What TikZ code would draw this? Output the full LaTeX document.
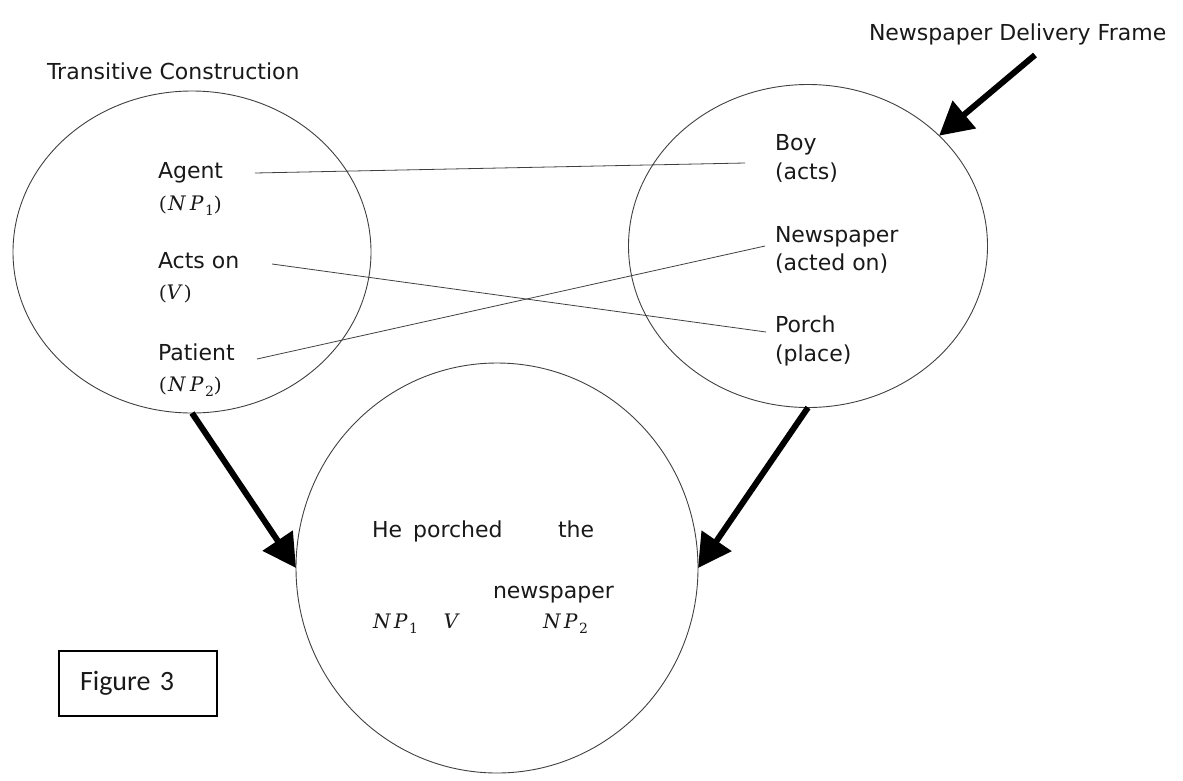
\documentclass[tikz,border=0pt]{standalone}
\usepackage{fontspec}
\usepackage{unicode-math}
\setmainfont{DejaVu Sans}
\setmathfont{DejaVu Math TeX Gyre}
\newfontfamily\figfont{Carlito}
\usetikzlibrary{shapes.geometric,arrows.meta}
\begin{document}
\begin{tikzpicture}[x=1pt,y=-1pt,
  every node/.style={font=\fontsize{22}{26}\selectfont, text=black!90, inner sep=0pt, outer sep=0pt},
  lbl/.style={anchor=base west},
  mlbl/.style={anchor=base west, font=\fontsize{20}{24}\selectfont},
  oval/.style={draw=black!75, line width=0.9pt, ellipse, inner sep=0pt, outer sep=0pt},
  link/.style={draw=black!75, line width=0.8pt},
  bigarrow/.style={line width=6pt, -{Triangle[length=33pt,width=35pt]}},
  figbox/.style={draw=black, line width=1.3pt, text width=116pt, align=left, inner xsep=21pt, inner ysep=0pt, minimum height=65pt, font=\figfont\fontsize{28}{34}\selectfont}
]
\useasboundingbox (0,0) rectangle (1183,780);
% ellipses
\node[oval, minimum width=358pt, minimum height=322pt] (tc) at (192,252) {};
\node[oval, minimum width=359pt, minimum height=323pt] (nd) at (808,246) {};
\node[oval, minimum width=402pt, minimum height=410pt] (res) at (497,568) {};
% titles
\node[lbl] (tctitle) at (47,79) {Transitive Construction};
\node[lbl] (ndtitle) at (869,40) {Newspaper Delivery Frame};
% left labels
\node[lbl] (agent) at (158,178) {Agent};
\node[mlbl] (np1) at (158,210) {$(NP_1)$};
\node[lbl] (actson) at (158,268) {Acts on};
\node[mlbl] (vv) at (158,299) {$(V)$};
\node[lbl] (patient) at (158,360) {Patient};
\node[mlbl] (np2) at (158,391) {$(NP_2)$};
% right labels
\node[lbl] (boy) at (775,150) {Boy};
\node[lbl] (acts) at (775,179) {(acts)};
\node[lbl] (news) at (775,242) {Newspaper};
\node[lbl] (acted) at (775,270) {(acted on)};
\node[lbl] (porch) at (775,332) {Porch};
\node[lbl] (place) at (775,361) {(place)};
% connector ends
\coordinate (agentR) at (255,173);
\coordinate (actsonR) at (272,264);
\coordinate (patientR) at (257,359);
\coordinate (boyL) at (745,163);
\coordinate (newsL) at (765,246);
\coordinate (porchL) at (766,332);
\draw[link] (agentR) -- (boyL);
\draw[link] (actsonR) -- (porchL);
\draw[link] (patientR) -- (newsL);
% arrows
\coordinate (ndtail) at (1035,55);
\draw[bigarrow] (ndtail) -- (nd);
\draw[bigarrow] (tc.south) -- (res.west);
\draw[bigarrow] (nd.south) -- (res.east);
% bottom text
\node[lbl] (heporched) at (372,537) {He\hspace{11pt}porched};
\node[lbl] (the) at (558,537) {the};
\node[lbl] (newspaper) at (493,598) {newspaper};
\node[mlbl] (mnp1) at (371,628) {$NP_1$};
\node[mlbl] (mv) at (443,628) {$V$};
\node[mlbl] (mnp2) at (541,628) {$NP_2$};
% figure label
\node[figbox] (fig) at (138,683.5) {Figure 3};
\end{tikzpicture}
\end{document}
